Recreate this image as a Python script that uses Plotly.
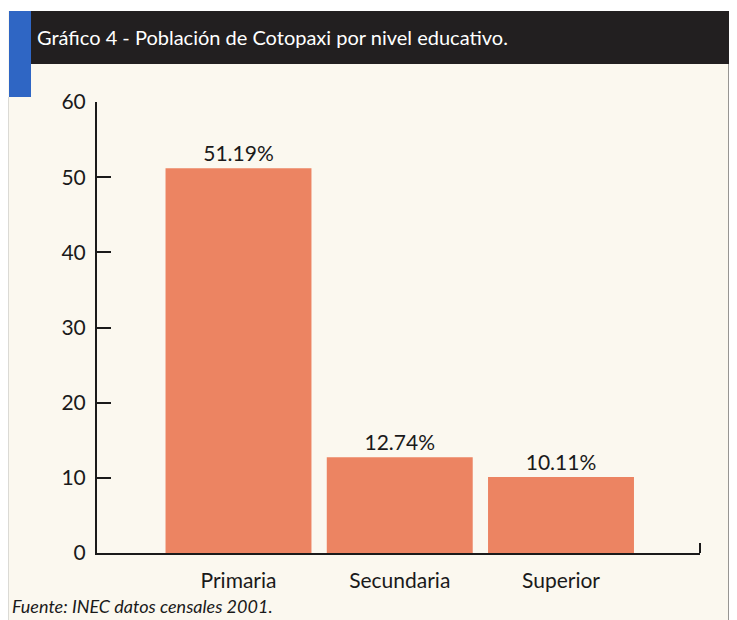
import plotly.graph_objects as go

categories = ["Primaria", "Secundaria", "Superior"]
percentages = [51.19, 12.74, 10.11]

title_text = "Gráfico 4 - Población de Cotopaxi por nivel educativo."
source_text = "Fuente: INEC datos censales 2001."

# the page body adds an 8px margin, so the figure is drawn 8px smaller
OFF = 8
W, H = 737 - OFF, 620 - OFF
L, R, T, B = 97 - OFF, 700 - OFF, 102 - OFF, 553 - OFF  # plot area in figure pixels


def px(x):
    return (x - OFF - L) / (R - L)


def py(y):
    return (B - (y - OFF)) / (B - T)


font_family = "Lato, 'Open Sans', sans-serif"

fig = go.Figure()
fig.add_trace(go.Bar(
    x=categories,
    y=percentages,
    width=0.905,
    marker=dict(color="#EC8462", line=dict(width=0)),
    texttemplate="%{y:.2f}%",
    textposition="outside",
    textfont=dict(color="#1a1a1a", size=21, family=font_family),
    cliponaxis=False,
))

shapes = [
    # cream page
    dict(type="rect", xref="paper", yref="paper", x0=px(8), x1=px(729), y0=py(11), y1=py(620),
         fillcolor="#FBF8EF", line=dict(width=0), layer="below"),
    # title bar
    dict(type="rect", xref="paper", yref="paper", x0=px(31), x1=px(730), y0=py(11), y1=py(64),
         fillcolor="#221F20", line=dict(width=0), layer="below"),
    # blue strip
    dict(type="rect", xref="paper", yref="paper", x0=px(9), x1=px(31), y0=py(11), y1=py(97),
         fillcolor="#2F66C4", line=dict(width=0), layer="below"),
    # borders
    dict(type="line", xref="paper", yref="paper", x0=px(729), x1=px(729), y0=py(64), y1=py(620),
         line=dict(color="#555555", width=1.2)),
    dict(type="line", xref="paper", yref="paper", x0=px(8), x1=px(8), y0=py(97), y1=py(620),
         line=dict(color="#BBBBBB", width=1)),
    # end tick on x axis
    dict(type="line", xref="paper", yref="paper", x0=1, x1=1, y0=0, y1=py(543),
         line=dict(color="#1a1a1a", width=2)),
]

fig.update_layout(
    width=W,
    height=H,
    paper_bgcolor="white",
    plot_bgcolor="rgba(0,0,0,0)",
    margin=dict(l=L, r=W - R, t=T, b=H - B, pad=0),
    showlegend=False,
    font=dict(family=font_family, color="#1a1a1a", size=21),
    xaxis=dict(
        range=[-0.8775, 2.862],
        showline=True, linecolor="#1a1a1a", linewidth=2,
        ticks="", showgrid=False, zeroline=False,
        ticklabelstandoff=8,
        tickfont=dict(size=21),
    ),
    yaxis=dict(
        range=[0, 60],
        tickvals=[0, 10, 20, 30, 40, 50, 60],
        showline=True, linecolor="#1a1a1a", linewidth=2,
        ticks="inside", ticklen=14, tickwidth=2, tickcolor="#1a1a1a",
        showgrid=False, zeroline=False,
        ticklabelstandoff=5,
        tickfont=dict(size=21),
    ),
    shapes=shapes,
    annotations=[
        dict(text=title_text, xref="paper", yref="paper", x=px(35), y=py(37),
             xanchor="left", yanchor="middle", showarrow=False,
             font=dict(color="white", size=20, family=font_family)),
        dict(text="<i>" + source_text + "</i>", xref="paper", yref="paper", x=px(10), y=py(606),
             xanchor="left", yanchor="middle", showarrow=False,
             font=dict(color="#1a1a1a", size=18, family=font_family)),
    ],
)

fig.write_html("out.html")
